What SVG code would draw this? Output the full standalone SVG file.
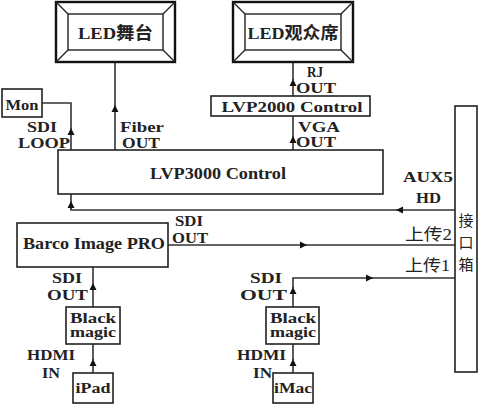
<svg xmlns="http://www.w3.org/2000/svg" width="480" height="405" viewBox="0 0 480 405">
<defs>
<style>
.box{fill:#fff;stroke:#222;stroke-width:1.6}
.scr{fill:#fff;stroke:#111;stroke-width:2.4}
.bev{fill:none;stroke:#222;stroke-width:1.4}
.ln{fill:none;stroke:#333;stroke-width:1.6}
.t{font-family:"Liberation Serif","DejaVu Serif","Times New Roman",serif;font-weight:bold;fill:#222}
.c{font-family:"Liberation Serif","Noto Sans CJK SC",serif;font-weight:bold;fill:#222}
.cj{font-family:"Liberation Serif","Noto Sans CJK SC",serif;font-weight:normal;fill:#222}
</style>
<marker id="ar" viewBox="0 0 8 8" refX="8" refY="4" markerWidth="7" markerHeight="8" markerUnits="userSpaceOnUse" orient="auto">
<path d="M0,0 L8,4 L0,8 z" fill="#111"/>
</marker>
</defs>
<rect width="480" height="405" fill="#fff"/>

<g id="connectors">
<line class="ln" x1="115" y1="150" x2="115" y2="105" marker-end="url(#ar)"/>
<line class="ln" x1="115" y1="107" x2="115" y2="62"/>
<line class="ln" x1="71" y1="150" x2="71" y2="128" marker-end="url(#ar)"/>
<polyline class="ln" points="71,130 71,103 42,103"/>
<line class="ln" x1="293" y1="96" x2="293" y2="79" marker-end="url(#ar)"/>
<line class="ln" x1="293" y1="81" x2="293" y2="62"/>
<line class="ln" x1="293" y1="150" x2="293" y2="136" marker-end="url(#ar)"/>
<line class="ln" x1="293" y1="138" x2="293" y2="116"/>
<line class="ln" x1="455" y1="210" x2="396" y2="210" marker-end="url(#ar)"/>
<polyline class="ln" points="398,210 71,210 71,202"/>
<line class="ln" x1="71" y1="210" x2="71" y2="201" marker-end="url(#ar)"/>
<line class="ln" x1="71" y1="203" x2="71" y2="194"/>
<line class="ln" x1="168" y1="245" x2="307" y2="245" marker-end="url(#ar)"/>
<line class="ln" x1="305" y1="245" x2="455" y2="245"/>
<line class="ln" x1="93" y1="307" x2="93" y2="283" marker-end="url(#ar)"/>
<line class="ln" x1="93" y1="285" x2="93" y2="267"/>
<line class="ln" x1="93" y1="373" x2="93" y2="359" marker-end="url(#ar)"/>
<line class="ln" x1="93" y1="361" x2="93" y2="344"/>
<line class="ln" x1="293" y1="307" x2="293" y2="287" marker-end="url(#ar)"/>
<polyline class="ln" points="293,289 293,278 373,278"/>
<line class="ln" x1="371" y1="278" x2="373" y2="278" marker-end="url(#ar)"/>
<line class="ln" x1="371" y1="278" x2="455" y2="278"/>
<line class="ln" x1="293" y1="373" x2="293" y2="359" marker-end="url(#ar)"/>
<line class="ln" x1="293" y1="361" x2="293" y2="344"/>
</g>

<g id="led-stage">
<rect class="scr" x="56" y="2" width="119" height="60"/>
<rect class="bev" x="68" y="14" width="95" height="36"/>
<path class="bev" d="M56,2 L68,14 M175,2 L163,14 M56,62 L68,50 M175,62 L163,50"/>
<text class="c" x="115.5" y="39" font-size="17" text-anchor="middle" textLength="75" lengthAdjust="spacingAndGlyphs">LED舞台</text>
</g>

<g id="led-audience">
<rect class="scr" x="233" y="2" width="120" height="60"/>
<rect class="bev" x="245" y="14" width="96" height="36"/>
<path class="bev" d="M233,2 L245,14 M353,2 L341,14 M233,62 L245,50 M353,62 L341,50"/>
<text class="c" x="293" y="39" font-size="17" text-anchor="middle" textLength="91" lengthAdjust="spacingAndGlyphs">LED观众席</text>
</g>

<g id="mon">
<rect class="box" x="2" y="89" width="40" height="28"/>
<text class="t" x="22" y="110" font-size="15" text-anchor="middle" textLength="33" lengthAdjust="spacingAndGlyphs">Mon</text>
</g>

<g id="lvp2000">
<rect class="box" x="211" y="96" width="159" height="20"/>
<text class="t" x="292" y="112" font-size="15" text-anchor="middle" textLength="141" lengthAdjust="spacingAndGlyphs">LVP2000 Control</text>
</g>

<g id="lvp3000">
<rect class="box" x="58" y="150" width="325" height="44"/>
<text class="t" x="218" y="179" font-size="16" text-anchor="middle" textLength="136" lengthAdjust="spacingAndGlyphs">LVP3000 Control</text>
</g>

<g id="interface-box">
<rect class="box" x="455" y="106" width="22" height="266"/>
<text class="cj" x="466" y="226" font-size="15" text-anchor="middle">接<tspan x="466" dy="22">口</tspan><tspan x="466" dy="22">箱</tspan></text>
</g>

<g id="barco">
<rect class="box" x="17" y="223" width="151" height="44"/>
<text class="t" x="94" y="249" font-size="16" text-anchor="middle" textLength="142" lengthAdjust="spacingAndGlyphs">Barco Image PRO</text>
</g>

<g id="blackmagic-1">
<rect class="box" x="66" y="307" width="54" height="37"/>
<text class="t" x="93" y="323" font-size="14" text-anchor="middle" textLength="46" lengthAdjust="spacingAndGlyphs">Black</text>
<text class="t" x="93" y="337" font-size="14" text-anchor="middle" textLength="46" lengthAdjust="spacingAndGlyphs">magic</text>
</g>

<g id="ipad">
<rect class="box" x="73" y="373" width="40" height="30"/>
<text class="t" x="93" y="393" font-size="15" text-anchor="middle" textLength="35" lengthAdjust="spacingAndGlyphs">iPad</text>
</g>

<g id="blackmagic-2">
<rect class="box" x="266" y="307" width="53" height="37"/>
<text class="t" x="293" y="323" font-size="14" text-anchor="middle" textLength="46" lengthAdjust="spacingAndGlyphs">Black</text>
<text class="t" x="293" y="337" font-size="14" text-anchor="middle" textLength="46" lengthAdjust="spacingAndGlyphs">magic</text>
</g>

<g id="imac">
<rect class="box" x="273" y="373" width="40" height="30"/>
<text class="t" x="293" y="393" font-size="15" text-anchor="middle" textLength="38" lengthAdjust="spacingAndGlyphs">iMac</text>
</g>

<g id="labels">
<text class="t" x="42" y="132" font-size="15" text-anchor="middle" textLength="30" lengthAdjust="spacingAndGlyphs">SDI</text>
<text class="t" x="44" y="148" font-size="15" text-anchor="middle" textLength="52" lengthAdjust="spacingAndGlyphs">LOOP</text>
<text class="t" x="142" y="132" font-size="15" text-anchor="middle" textLength="44" lengthAdjust="spacingAndGlyphs">Fiber</text>
<text class="t" x="141" y="148" font-size="15" text-anchor="middle" textLength="38" lengthAdjust="spacingAndGlyphs">OUT</text>
<text class="t" x="315" y="77" font-size="14" text-anchor="middle" textLength="16" lengthAdjust="spacingAndGlyphs">RJ</text>
<text class="t" x="316" y="93" font-size="14" text-anchor="middle" textLength="40" lengthAdjust="spacingAndGlyphs">OUT</text>
<text class="t" x="319" y="132" font-size="14" text-anchor="middle" textLength="42" lengthAdjust="spacingAndGlyphs">VGA</text>
<text class="t" x="316" y="147" font-size="14" text-anchor="middle" textLength="40" lengthAdjust="spacingAndGlyphs">OUT</text>
<text class="t" x="428" y="182" font-size="15" text-anchor="middle" textLength="50" lengthAdjust="spacingAndGlyphs">AUX5</text>
<text class="t" x="428.5" y="203" font-size="15" text-anchor="middle" textLength="25" lengthAdjust="spacingAndGlyphs">HD</text>
<text class="t" x="189" y="226" font-size="14" text-anchor="middle" textLength="28" lengthAdjust="spacingAndGlyphs">SDI</text>
<text class="t" x="190" y="243" font-size="14" text-anchor="middle" textLength="36" lengthAdjust="spacingAndGlyphs">OUT</text>
<text class="cj" x="428.5" y="240" font-size="16" text-anchor="middle" textLength="47" lengthAdjust="spacingAndGlyphs">上传2</text>
<text class="cj" x="427.5" y="271" font-size="16" text-anchor="middle" textLength="45" lengthAdjust="spacingAndGlyphs">上传1</text>
<text class="t" x="67" y="283" font-size="14" text-anchor="middle" textLength="30" lengthAdjust="spacingAndGlyphs">SDI</text>
<text class="t" x="67.5" y="300" font-size="14" text-anchor="middle" textLength="41" lengthAdjust="spacingAndGlyphs">OUT</text>
<text class="t" x="51" y="360" font-size="14" text-anchor="middle" textLength="48" lengthAdjust="spacingAndGlyphs">HDMI</text>
<text class="t" x="51" y="378" font-size="14" text-anchor="middle" textLength="18" lengthAdjust="spacingAndGlyphs">IN</text>
<text class="t" x="266" y="283" font-size="14" text-anchor="middle" textLength="32" lengthAdjust="spacingAndGlyphs">SDI</text>
<text class="t" x="263.5" y="300" font-size="14" text-anchor="middle" textLength="47" lengthAdjust="spacingAndGlyphs">OUT</text>
<text class="t" x="261.5" y="360" font-size="14" text-anchor="middle" textLength="49" lengthAdjust="spacingAndGlyphs">HDMI</text>
<text class="t" x="262.5" y="378" font-size="14" text-anchor="middle" textLength="19" lengthAdjust="spacingAndGlyphs">IN</text>
</g>
</svg>
